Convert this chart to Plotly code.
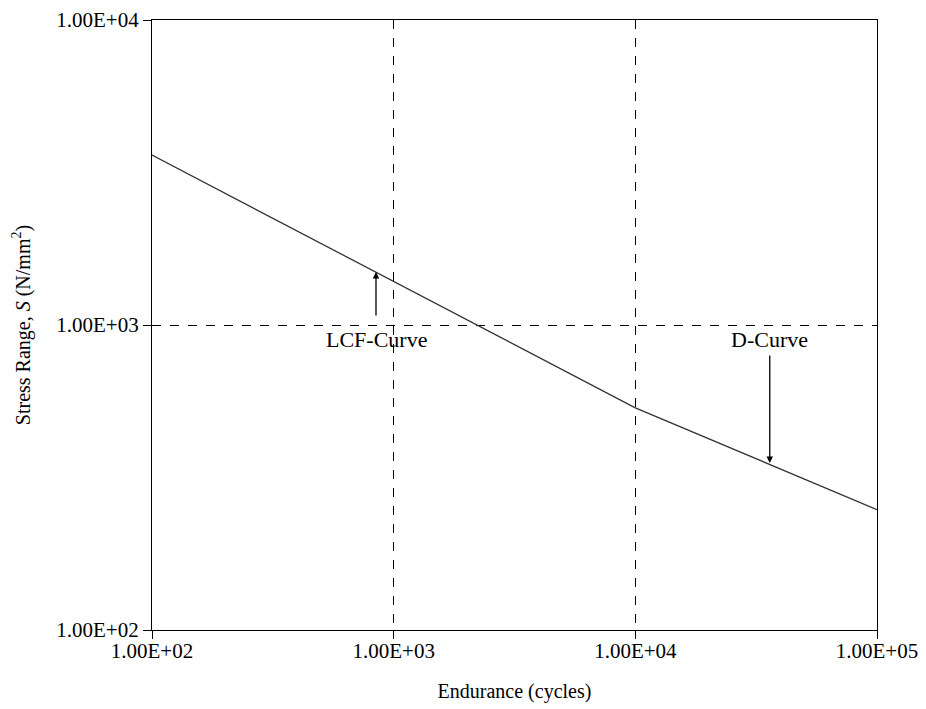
import numpy as np
import plotly.graph_objects as go

# S-N curve (LCF + D-curve)
endurance = [100, 10000, 100000]
stress = [3606, 535, 248]

tick_vals = [100, 1000, 10000, 100000]
x_tick_text = ["1.00E+02", "1.00E+03", "1.00E+04", "1.00E+05"]
y_tick_vals = [100, 1000, 10000]
y_tick_text = ["1.00E+02", "1.00E+03", "1.00E+04"]

FONT = "Liberation Serif"

fig = go.Figure()
fig.add_trace(go.Scatter(x=endurance, y=stress, mode="lines",
                         line=dict(color="#333333", width=1.3),
                         showlegend=False, hoverinfo="skip"))

lg = np.log10
# arrows (empty text, tail given in data coords)
fig.add_annotation(x=lg(845), y=lg(1493), ax=lg(845), ay=lg(1062),
                   xref="x", yref="y", axref="x", ayref="y", text="",
                   showarrow=True, arrowhead=2, arrowsize=1, arrowwidth=1.3,
                   arrowcolor="black")
fig.add_annotation(x=lg(36000), y=lg(353), ax=lg(36000), ay=lg(804),
                   xref="x", yref="y", axref="x", ayref="y", text="",
                   showarrow=True, arrowhead=2, arrowsize=1, arrowwidth=1.3,
                   arrowcolor="black")
fig.add_annotation(x=lg(853), y=lg(893), text="LCF-Curve", showarrow=False,
                   font=dict(family=FONT, size=22, color="black"))
fig.add_annotation(x=lg(36000), y=lg(893), text="D-Curve", showarrow=False,
                   font=dict(family=FONT, size=22, color="black"))

axis_common = dict(type="log", showline=True, linecolor="black", linewidth=1.3,
                   mirror=True, ticks="outside", ticklen=8, tickcolor="black",
                   tickwidth=1.3, showgrid=True, gridcolor="black", griddash="dash",
                   gridwidth=1, zeroline=False, ticklabeloverflow="allow",
                   tickfont=dict(family=FONT, size=21, color="black"))

fig.update_xaxes(range=[2, 5], tickvals=tick_vals, ticktext=x_tick_text,
                 ticklabelstandoff=-6,
                 title=dict(text="Endurance (cycles)", standoff=21,
                            font=dict(family=FONT, size=20, color="black")),
                 **axis_common)
fig.update_yaxes(range=[2, 4], tickvals=y_tick_vals, ticktext=y_tick_text,
                 title=dict(text="Stress Range, <i>S</i> (N/mm<sup>2</sup>)", standoff=20,
                            font=dict(family=FONT, size=20, color="black")),
                 **axis_common)

# the page body adds an 8px offset, so the figure is shrunk to fit the window
fig.update_layout(width=918, height=701,
                  margin=dict(l=144, r=49, t=12, b=79, autoexpand=False),
                  plot_bgcolor="white", paper_bgcolor="white")

fig.write_html("out.html")
